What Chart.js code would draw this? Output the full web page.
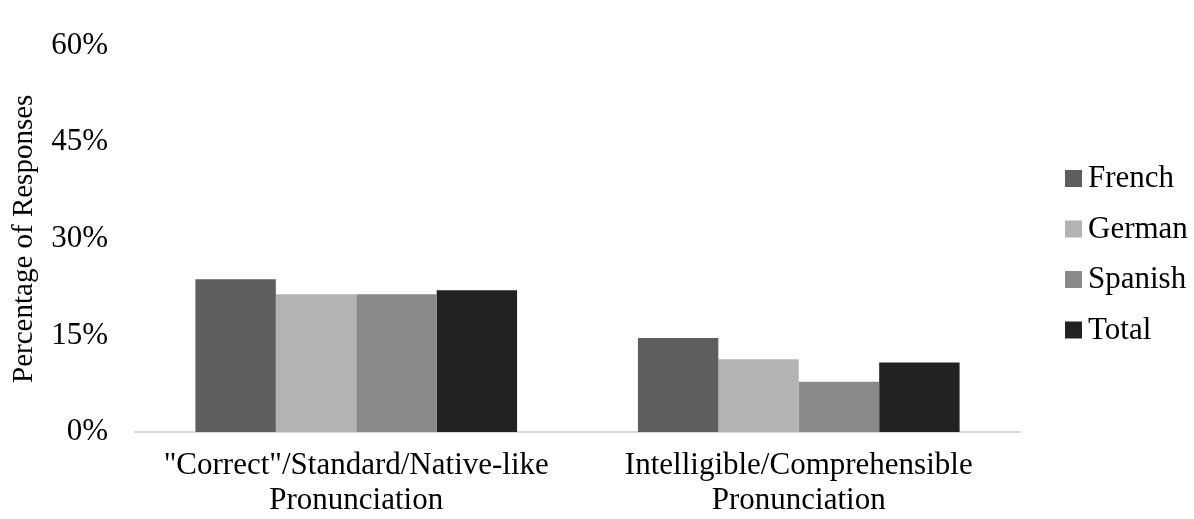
<!DOCTYPE html>
<html>
<head>
<meta charset="utf-8">
<script src="https://cdn.jsdelivr.net/npm/chart.js@4"></script>
<style>
  html, body { margin: 0; padding: 0; background: #fff; }
  #wrap { width: 1194px; height: 519px; }
</style>
</head>
<body>
<div id="wrap"><canvas id="chart" width="1194" height="519"></canvas></div>
<script>
const categories = [
  ['"Correct"/Standard/Native-like', 'Pronunciation'],
  ['Intelligible/Comprehensible', 'Pronunciation']
];
const french = [23.7, 14.6];
const german = [21.4, 11.3];
const spanish = [21.4, 7.8];
const total = [22.0, 10.8];
const yTicks = [0, 15, 30, 45, 60];

const FONT = "'Liberation Serif', 'Times New Roman', serif";
const FS = 31;

// legend drawn by hand on the right, like the original
const sideLegend = {
  id: 'sideLegend',
  afterDraw(chart) {
    const c = chart.ctx;
    c.save();
    c.font = FS + 'px ' + FONT;
    c.textBaseline = 'middle';
    c.textAlign = 'left';
    chart.data.datasets.forEach((ds, i) => {
      const y = 178 + i * 50.5;
      c.fillStyle = ds.backgroundColor;
      c.fillRect(1065, y - 8, 17, 17);
      c.fillStyle = '#000';
      c.fillText(ds.label, 1088, y + 1);
    });
    c.restore();
  }
};

new Chart(document.getElementById('chart'), {
  type: 'bar',
  data: {
    labels: categories,
    datasets: [
      { label: 'French', data: french, backgroundColor: '#5e5e5e' },
      { label: 'German', data: german, backgroundColor: '#b3b3b3' },
      { label: 'Spanish', data: spanish, backgroundColor: '#898989' },
      { label: 'Total', data: total, backgroundColor: '#222222' }
    ]
  },
  options: {
    responsive: false,
    animation: false,
    layout: { padding: { top: 32, right: 174, bottom: 0, left: 0 } },
    datasets: {
      bar: { categoryPercentage: 0.727, barPercentage: 1.0, borderWidth: 0 }
    },
    plugins: {
      legend: { display: false },
      tooltip: { enabled: false }
    },
    scales: {
      x: {
        grid: { display: false, drawTicks: false },
        border: { display: true, color: '#d9d9d9', width: 2 },
        ticks: {
          color: '#000',
          font: { family: FONT, size: FS, lineHeight: 1.13 },
          padding: 16,
          maxRotation: 0,
          autoSkip: false
        },
        afterFit(scale) { scale.height = 87; }
      },
      y: {
        min: 0,
        max: 60,
        afterBuildTicks(scale) { scale.ticks = yTicks.map(v => ({ value: v })); },
        grid: { display: false, drawTicks: false },
        border: { display: false },
        ticks: {
          color: '#000',
          font: { family: FONT, size: FS },
          padding: 27,
          callback: v => v + '%'
        },
        title: {
          display: true,
          text: 'Percentage of Responses',
          color: '#000',
          font: { family: FONT, size: 29 },
          padding: { top: 7, bottom: 0 }
        },
        afterFit(scale) { scale.width = 135; }
      }
    }
  },
  plugins: [sideLegend]
});
</script>
</body>
</html>
